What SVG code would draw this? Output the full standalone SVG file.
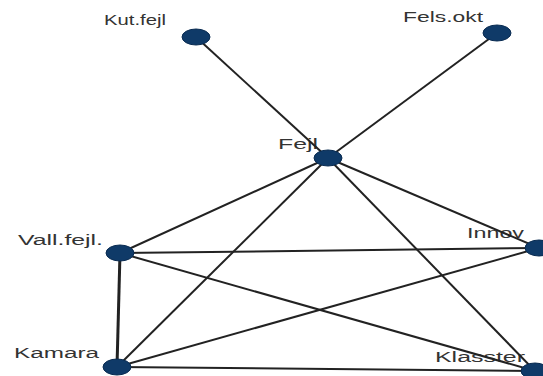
<svg xmlns="http://www.w3.org/2000/svg" width="543" height="376" viewBox="0 0 543 376">
<style>
.lbl{font-family:"Liberation Sans",Arial,sans-serif;font-size:14px;fill:#333;}
.e{stroke:#222;stroke-width:2;fill:none;}
.n{fill:#0f3a68;stroke:#0a2c52;stroke-width:1;}
</style>
<rect width="543" height="376" fill="#fff"/>
<g id="labels">
<text class="lbl" x="104" y="25" textLength="62" lengthAdjust="spacingAndGlyphs">Kut.fejl</text>
<text class="lbl" x="403" y="22" textLength="80" lengthAdjust="spacingAndGlyphs">Fels.okt</text>
<text class="lbl" x="278" y="149" textLength="40" lengthAdjust="spacingAndGlyphs">Fejl</text>
<text class="lbl" x="18" y="245" textLength="85" lengthAdjust="spacingAndGlyphs">Vall.fejl.</text>
<text class="lbl" x="467" y="238" textLength="57" lengthAdjust="spacingAndGlyphs">Innov</text>
<text class="lbl" x="14" y="358" textLength="85" lengthAdjust="spacingAndGlyphs">Kamara</text>
<text class="lbl" x="435" y="362" textLength="90" lengthAdjust="spacingAndGlyphs">Klasster</text>
</g>
<g id="edges">
<line class="e" x1="196" y1="37" x2="328" y2="158"/>
<line class="e" x1="497" y1="33" x2="328" y2="158"/>
<line class="e" x1="328" y1="158" x2="120" y2="253"/>
<line class="e" x1="328" y1="158" x2="117" y2="367"/>
<line class="e" x1="328" y1="158" x2="539" y2="248"/>
<line class="e" x1="328" y1="158" x2="535" y2="371"/>
<line class="e" x1="120" y1="253" x2="539" y2="248"/>
<line class="e" x1="120" y1="253" x2="117" y2="367" style="stroke-width:3"/>
<line class="e" x1="120" y1="253" x2="535" y2="371"/>
<line class="e" x1="117" y1="367" x2="539" y2="248"/>
<line class="e" x1="117" y1="367" x2="535" y2="371"/>
</g>
<g id="node-kutfejl"><ellipse class="n" cx="196" cy="37" rx="14" ry="8"/></g>
<g id="node-felsokt"><ellipse class="n" cx="497" cy="33" rx="14" ry="8"/></g>
<g id="node-fejl"><ellipse class="n" cx="328" cy="158" rx="14" ry="8"/></g>
<g id="node-vallfejl"><ellipse class="n" cx="120" cy="253" rx="14" ry="8"/></g>
<g id="node-innov"><ellipse class="n" cx="539" cy="248" rx="14" ry="8"/></g>
<g id="node-kamara"><ellipse class="n" cx="117" cy="367" rx="14" ry="8"/></g>
<g id="node-klasster"><ellipse class="n" cx="535" cy="371" rx="14" ry="8"/></g>
</svg>
